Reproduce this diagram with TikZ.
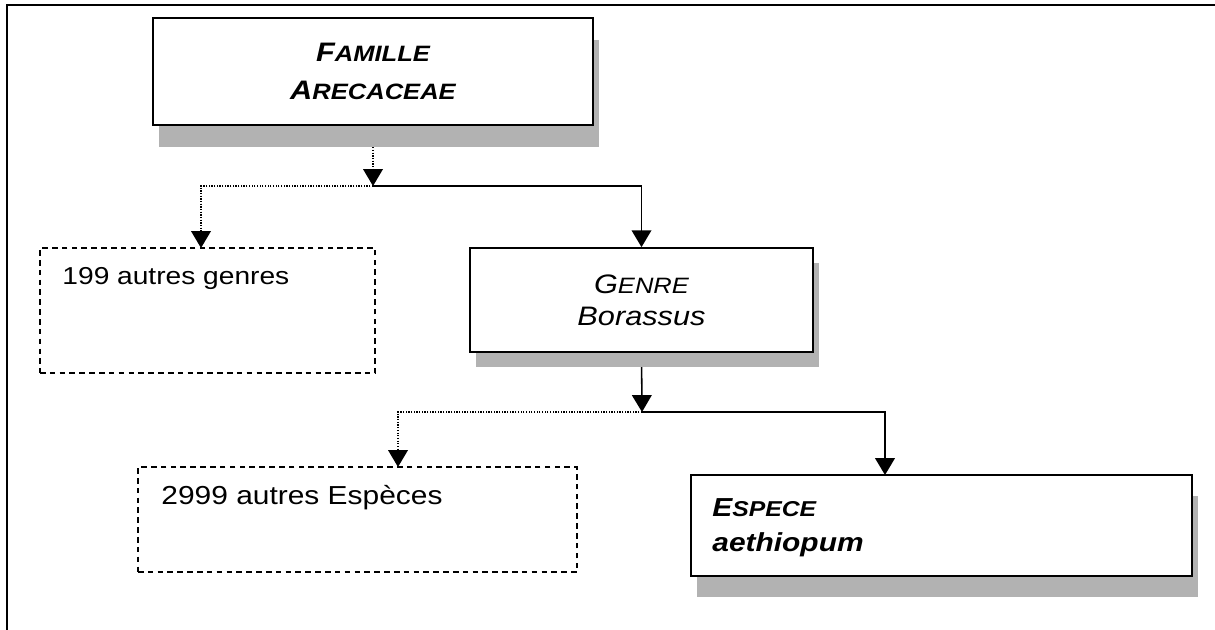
\documentclass[tikz,border=0pt]{standalone}
\usepackage{fontspec}
\setmainfont[FakeStretch=1.15]{Liberation Sans}
\usetikzlibrary{positioning,arrows.meta,shadows,backgrounds}

\newcommand{\pcap}[3]{#2{\fontsize{#1}{#1}\selectfont #3}}

\begin{document}
\begin{tikzpicture}[x=0.025cm,y=-0.025cm,
  boite/.style={draw, line width=1.2pt, fill=white, inner sep=0pt},
  ombre/.style={drop shadow={shadow xshift=4pt, shadow yshift=#1, fill=gray!60, opacity=1}},
  autre/.style={draw, line width=1.1pt, dash pattern=on 4pt off 3pt, inner sep=0pt},
  texte/.style={inner sep=0pt, anchor=north west, align=left},
  lien/.style={line width=1.1pt, -{Triangle[width=14pt,length=12pt]}},
  lienpt/.style={line width=0.9pt, densely dotted, -{Triangle[width=14pt,length=12pt]}}]
\useasboundingbox (0,0) rectangle (1215,630);
\draw[line width=1.2pt] (7,630) -- (7,5) -- (1215,5);

\node[boite, ombre=-15.6pt, minimum width=11cm, minimum height=2.675cm, align=center, font=\fontsize{19}{27.6}\selectfont\bfseries\itshape] (famille) at (373,71.5) {\pcap{15.8}{F}{AMILLE}\\\pcap{15.8}{A}{RECACEAE}};
\node[boite, ombre=-10.6pt, minimum width=8.575cm, minimum height=2.6cm, align=center, font=\fontsize{19}{22.7}\selectfont\itshape] (genre) at (641.5,300) {\pcap{15.8}{G}{ENRE}\\Borassus};
\node[autre, minimum width=8.375cm, minimum height=3.125cm] (autres1) at (207.5,310.5) {};
\node[texte, font=\fontsize{17.4}{20}\selectfont, below right=0.5cm and 0.575cm of autres1.north west] (t199) {199 autres genres};
\node[autre, minimum width=10.975cm, minimum height=2.625cm] (autres2) at (357.5,519.5) {};
\node[texte, font=\fontsize{18.5}{21}\selectfont, below right=0.475cm and 0.6cm of autres2.north west] (t2999) {2999 autres Espèces};
\node[boite, ombre=-15pt, minimum width=12.525cm, minimum height=2.525cm] (espece) at (941.5,525.5) {};
\node[texte, font=\fontsize{18.5}{25}\selectfont\bfseries\itshape, below right=0.6cm and 0.55cm of espece.north west] (tesp) {\pcap{15.3}{E}{SPECE}\\aethiopum};

\coordinate (j1) at (373,186);
\coordinate (j2) at (642,412);
\coordinate (e199) at (201,248);
\coordinate (e2999) at (398,467);
\coordinate (eesp) at (885,475);

\begin{scope}[on background layer]
\draw[lienpt] (famille.south) -- (j1);
\draw[lienpt] (j1) -| (e199);
\draw[lien] (j1) -| (genre.north);
\draw[lien] (genre.south) -- (j2);
\draw[lienpt] (j2) -| (e2999);
\draw[lien] (j2) -| (eesp);
\end{scope}
\end{tikzpicture}
\end{document}
